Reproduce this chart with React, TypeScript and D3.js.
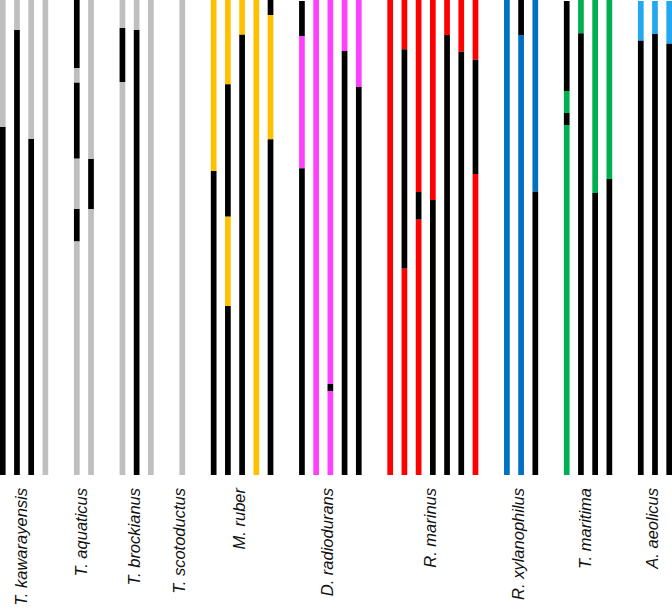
import React from "react";
import * as d3 from "d3";

// Species (groups), their colours, and each bar's segments from top to bottom.
// Segment: [kind, start, end]; kind "c" = species colour, "k" = black. Positions on a 0–475 axis.
type Seg = [string, number, number];

const species = [
  "T. kawarayensis",
  "T. aquaticus",
  "T. brockianus",
  "T. scotoductus",
  "M. ruber",
  "D. radiodurans",
  "R. marinus",
  "R. xylanophilus",
  "T. maritima",
  "A. aeolicus",
];

const speciesColors = [
  "#bfbfbf",
  "#bfbfbf",
  "#bfbfbf",
  "#bfbfbf",
  "#ffc000",
  "#ff40ff",
  "#ff0000",
  "#0070c0",
  "#00b050",
  "#22a8ee",
];

const kawarayensis: Seg[][] = [
  [["c", 0, 127], ["k", 127, 475]],
  [["c", 0, 30], ["k", 30, 475]],
  [["c", 0, 139], ["k", 139, 475]],
  [["c", 0, 475]],
];
const aquaticus: Seg[][] = [
  [["k", 0, 68], ["c", 68, 82.7], ["k", 82.7, 158.7], ["c", 158.7, 209], ["k", 209, 241.5], ["c", 241.5, 475]],
  [["c", 0, 159], ["k", 159, 209], ["c", 209, 475]],
];
const brockianus: Seg[][] = [
  [["c", 0, 28], ["k", 28, 82], ["c", 82, 475]],
  [["c", 0, 30], ["k", 30, 475]],
  [["c", 0, 475]],
];
const scotoductus: Seg[][] = [[["c", 0, 475]]];
const ruber: Seg[][] = [
  [["c", 0, 171], ["k", 171, 475]],
  [["c", 0, 84.3], ["k", 84.3, 216.7], ["c", 216.7, 306], ["k", 306, 475]],
  [["c", 0, 34.7], ["k", 34.7, 475]],
  [["c", 0, 475]],
  [["k", 0, 15], ["c", 15, 139.3], ["k", 139.3, 475]],
];
const radiodurans: Seg[][] = [
  [["k", 1, 36], ["c", 36, 168.3], ["k", 168.3, 475]],
  [["c", 0, 475]],
  [["c", 0, 384], ["k", 384, 391], ["c", 391, 475]],
  [["c", 0, 51], ["k", 51, 475]],
  [["c", 0, 87], ["k", 87, 475]],
];
const marinus: Seg[][] = [
  [["c", 0, 475]],
  [["c", 0, 49.3], ["k", 49.3, 268.7], ["c", 268.7, 475]],
  [["c", 0, 192], ["k", 192, 219.7], ["c", 219.7, 475]],
  [["c", 0, 200], ["k", 200, 475]],
  [["c", 0, 35], ["k", 35, 475]],
  [["c", 0, 51.7], ["k", 51.7, 475]],
  [["c", 0, 59.7], ["k", 59.7, 174], ["c", 174, 475]],
];
const xylanophilus: Seg[][] = [
  [["c", 0, 475]],
  [["k", 0, 35], ["c", 35, 475]],
  [["c", 0, 191.7], ["k", 191.7, 475]],
];
const maritima: Seg[][] = [
  [["k", 1, 91], ["c", 91, 113], ["k", 113, 125], ["c", 125, 475]],
  [["c", 0, 33.3], ["k", 33.3, 475]],
  [["c", 0, 193], ["k", 193, 475]],
  [["c", 0, 179], ["k", 179, 475]],
];
const aeolicus: Seg[][] = [
  [["c", 1, 40.7], ["k", 40.7, 475]],
  [["c", 1, 34], ["k", 34, 475]],
  [["c", 1, 43.7], ["k", 43.7, 475]],
];

const groups = [
  kawarayensis,
  aquaticus,
  brockianus,
  scotoductus,
  ruber,
  radiodurans,
  marinus,
  xylanophilus,
  maritima,
  aeolicus,
];

const W = 672;
const H = 610;
const GAP_UNITS = 1.21; // extra space between species groups, in bar-slot units
const BAR_W = 5.7;

export default function App() {
  // compute bar slot positions
  const bars: { g: number; u: number; segs: Seg[] }[] = [];
  let idx = 0;
  groups.forEach((bs, g) => {
    bs.forEach((segs) => {
      bars.push({ g, u: idx + g * GAP_UNITS, segs });
      idx++;
    });
  });
  const maxU = d3.max(bars, (b) => b.u) as number;
  const x = d3.scaleLinear().domain([0, maxU]).range([2.75, 669.2]);
  const y = d3.scaleLinear().domain([0, 475]).range([0, 475]);

  const groupCenters = groups.map((_, g) => {
    const us = bars.filter((b) => b.g === g).map((b) => x(b.u));
    return ((d3.min(us) as number) + (d3.max(us) as number)) / 2;
  });

  return (
    <svg
      width={W}
      height={H}
      style={{ position: "absolute", left: 0, top: 0, background: "#fff" }}
    >
      <rect x={0} y={0} width={W} height={H} fill="#fff" />
      {bars.map((b, i) => (
        <g key={i}>
          {b.segs.map((s, j) => (
            <rect
              key={j}
              x={x(b.u) - BAR_W / 2}
              y={y(s[1])}
              width={BAR_W}
              height={y(s[2]) - y(s[1])}
              fill={s[0] === "k" ? "#000" : speciesColors[b.g]}
            />
          ))}
        </g>
      ))}
      {species.map((name, g) => (
        <text
          key={name}
          transform={`translate(${groupCenters[g] + 3},488) rotate(-90)`}
          textAnchor="end"
          fontFamily="'Liberation Sans', Arial, sans-serif"
          fontStyle="italic"
          fontSize={16.5}
          fill="#111"
        >
          {name}
        </text>
      ))}
    </svg>
  );
}
